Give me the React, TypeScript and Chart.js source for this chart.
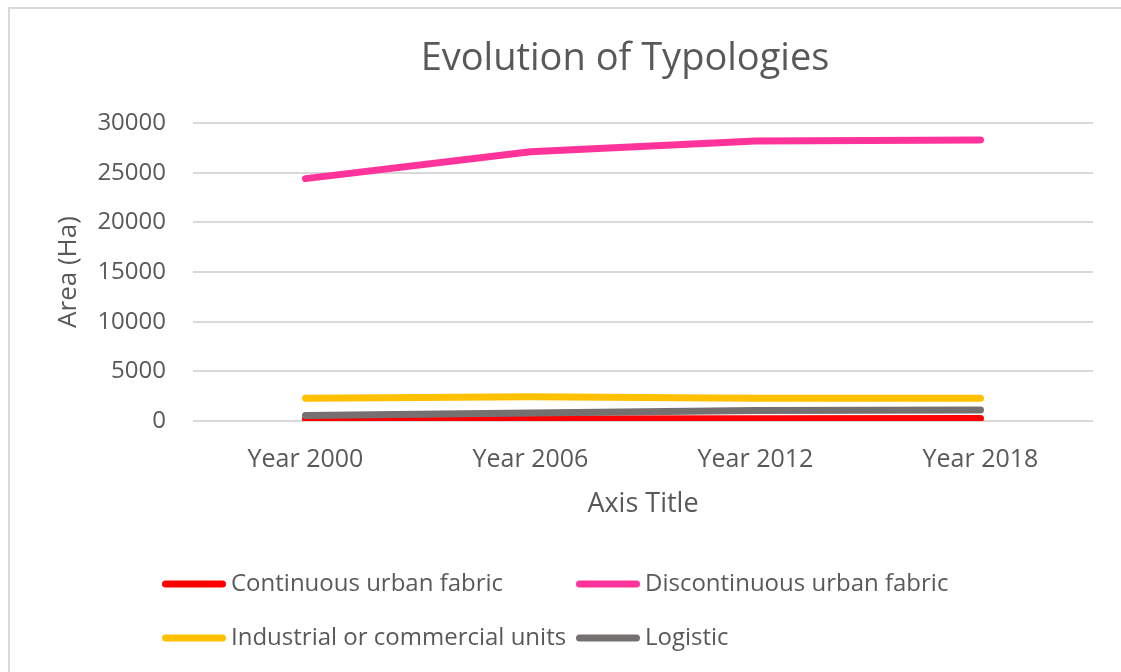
import React, { useEffect, useRef } from 'react';
import { Chart, registerables } from 'chart.js';

Chart.register(...registerables);

// ---- data ----
const categories = ['Year 2000', 'Year 2006', 'Year 2012', 'Year 2018'];
const seriesNames = [
  'Continuous urban fabric',
  'Discontinuous urban fabric',
  'Industrial or commercial units',
  'Logistic',
];
const continuousUrbanFabric = [180, 210, 230, 240];
const discontinuousUrbanFabric = [24400, 27100, 28200, 28300];
const industrialCommercialUnits = [2300, 2450, 2300, 2300];
const logistic = [550, 800, 1050, 1100];
const yMin = 0;
const yMax = 30000;
const yStep = 5000;

const chartTitle = 'Evolution of Typologies';
const xAxisTitle = 'Axis Title';
const yAxisTitle = 'Area (Ha)';

// ---- styles ----
const seriesColors = ['#FF0000', '#FF3399', '#FFC000', '#767171'];
const FONT = '"Open Sans", "Liberation Sans", sans-serif';
const TEXT = '#595959';
const GRID = '#D9D9D9';

const overlayPlugin = {
  id: 'overlay',
  afterDraw(chart: any) {
    const ctx = chart.ctx as CanvasRenderingContext2D;
    ctx.save();
    ctx.fillStyle = TEXT;
    ctx.font = `38px ${FONT}`;
    ctx.textAlign = 'center';
    ctx.textBaseline = 'alphabetic';
    ctx.fillText(chartTitle, 625, 70);

    ctx.font = `24px ${FONT}`;
    ctx.textAlign = 'left';
    ctx.textBaseline = 'middle';
    const cols = [162, 576];
    const rows = [584, 638];
    chart.data.datasets.forEach((ds: any, i: number) => {
      const x = cols[i % 2];
      const y = rows[Math.floor(i / 2)];
      ctx.strokeStyle = ds.borderColor;
      ctx.lineWidth = 7;
      ctx.lineCap = 'round';
      ctx.beginPath();
      ctx.moveTo(x + 3.5, y);
      ctx.lineTo(x + 60.5, y);
      ctx.stroke();
      ctx.fillStyle = TEXT;
      ctx.fillText(ds.label, x + 69, y);
    });
    ctx.restore();
  },
};

export default function App() {
  const ref = useRef<HTMLCanvasElement>(null);

  useEffect(() => {
    if (!ref.current) return;
    const allSeries = [
      continuousUrbanFabric,
      discontinuousUrbanFabric,
      industrialCommercialUnits,
      logistic,
    ];
    const chart = new Chart(ref.current, {
      type: 'line',
      data: {
        labels: categories,
        datasets: allSeries.map((values, i) => ({
          label: seriesNames[i],
          data: values,
          borderColor: seriesColors[i],
          backgroundColor: seriesColors[i],
          borderWidth: 7,
          borderCapStyle: 'round',
          borderJoinStyle: 'round',
          pointRadius: 0,
          pointHoverRadius: 0,
          tension: 0,
          fill: false,
          order: 4 - i,
        })),
      },
      options: {
        responsive: false,
        animation: false,
        devicePixelRatio: 1,
        layout: { padding: { left: 53, right: 28, top: 123, bottom: 151 } },
        plugins: {
          legend: { display: false },
          title: { display: false },
          tooltip: { enabled: false },
        },
        scales: {
          x: {
            type: 'category',
            offset: true,
            grid: { display: false, drawTicks: false },
            border: { display: false },
            ticks: {
              color: TEXT,
              font: { family: FONT, size: 25 },
              padding: 24,
              maxRotation: 0,
            },
            title: {
              display: true,
              text: xAxisTitle,
              color: TEXT,
              font: { family: FONT, size: 27 },
              padding: { top: 0, bottom: 0 },
            },
            afterFit: (scale: any) => {
              scale.height = 100;
            },
          },
          y: {
            min: yMin,
            max: yMax,
            grid: { color: GRID, lineWidth: 2, drawTicks: false },
            border: { display: false },
            ticks: {
              stepSize: yStep,
              color: TEXT,
              font: { family: FONT, size: 24 },
              padding: 27,
              callback: (v: any) => String(v),
            },
            title: {
              display: true,
              text: yAxisTitle,
              color: TEXT,
              font: { family: FONT, size: 26 },
              padding: { top: 0, bottom: 0 },
            },
            afterFit: (scale: any) => {
              scale.width = 140;
            },
          },
        },
      },
      plugins: [overlayPlugin],
    } as any);
    return () => chart.destroy();
  }, []);

  return (
    <div style={{ position: 'fixed', left: 0, top: 0, width: 1121, height: 672, overflow: 'hidden', background: '#fff' }}>
      <div
        style={{
          position: 'absolute',
          left: 8,
          top: 7,
          width: 1300,
          height: 900,
          border: '2px solid #D9D9D9',
          boxSizing: 'border-box',
        }}
      />
      <canvas
        ref={ref}
        width={1121}
        height={672}
        style={{ position: 'absolute', left: 0, top: 0, width: 1121, height: 672, display: 'block' }}
      />
    </div>
  );
}
